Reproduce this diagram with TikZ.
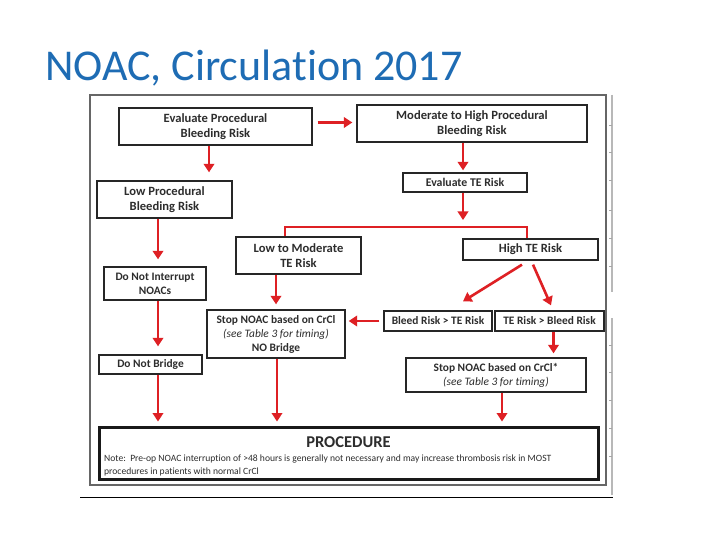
\documentclass[tikz,border=0pt]{standalone}
\usepackage{fontspec}
\setmainfont{Carlito}[Ligatures=NoCommon]
\usetikzlibrary{arrows.meta,calc}
\definecolor{ttl}{RGB}{30,108,180}
\definecolor{arr}{RGB}{222,32,36}
\definecolor{txt}{RGB}{45,45,45}
\begin{document}
\begin{tikzpicture}[x=1pt,y=-1pt,
  box/.style={draw=black!85, line width=1.3pt, align=center, inner sep=0pt, text=txt,
    font=\fontsize{12.6}{15}\selectfont\bfseries},
  sbox/.style={box, font=\fontsize{11.4}{14}\selectfont\bfseries},
  redarr/.style={draw=arr, line width=2.6pt, -{Triangle[width=10.5pt,length=8.5pt]}},
  redline/.style={draw=arr, line width=2.6pt}]
\useasboundingbox[fill=white] (0,0) rectangle (720,540);

% title
\node[anchor=base west, inner sep=0pt, text=ttl, font=\fontsize{44}{50}\selectfont] (title) at (45,81) {NOAC, Circulation 2017};

% frame of the embedded figure
\draw[draw=black!60, line width=1.5pt] (90,95) rectangle (606,485);
\draw[black!28, line width=1.2pt] (612,95) -- (612,292);
\draw[black!28, line width=1.2pt] (612,318) -- (612,495);
\foreach \yy in {125,152,180,210,238,266,345,372,400,428,456}
  \draw[black!35, line width=0.6pt] (609,\yy) -- (612,\yy);
\draw[black, line width=0.8pt] (80,497) -- (613,497);

% boxes
\node[box, minimum width=193pt, minimum height=37pt] (b1) at (215.5,126.5) {Evaluate Procedural\\Bleeding Risk};
\node[box, minimum width=230pt, minimum height=37pt] (b2) at (472,123.5) {Moderate to High Procedural\\Bleeding Risk};
\node[box, minimum width=124pt, minimum height=19pt, font=\fontsize{11.8}{14}\selectfont\bfseries] (b3) at (465,182.5) {Evaluate TE Risk};
\node[box, minimum width=135pt, minimum height=37pt] (b4) at (164.5,199.5) {Low Procedural\\Bleeding Risk};
\node[box, minimum width=125pt, minimum height=37pt] (b5) at (298.5,255.5) {Low to Moderate\\TE Risk};
\node[box, minimum width=135pt, minimum height=21pt] (b6) at (530.5,249.5) {High TE Risk};
\node[sbox, minimum width=102pt, minimum height=33pt] (b7) at (155,283.5) {Do Not Interrupt\\NOACs};
\node[sbox, minimum width=138pt, minimum height=48pt] (b8) at (276,334) {Stop NOAC based on CrCl\\{\mdseries\itshape (see Table 3 for timing)}\\NO Bridge};
\node[sbox, minimum width=108pt, minimum height=20pt] (b9) at (438,321) {Bleed Risk > TE Risk};
\node[sbox, minimum width=109pt, minimum height=20pt] (b10) at (549.5,321) {TE Risk > Bleed Risk};
\node[sbox, minimum width=103pt, minimum height=19pt] (b11) at (150.5,364.5) {Do Not Bridge};
\node[sbox, minimum width=180pt, minimum height=34pt] (b12) at (496,375) {Stop NOAC based on CrCl*\\{\mdseries\itshape (see Table 3 for timing)}};
\node[draw=black!90, line width=3pt, minimum width=499pt, minimum height=52pt, inner sep=0pt] (b13) at (348.5,453) {};
\node[anchor=base, inner sep=0pt, text=txt, font=\fontsize{16.5}{18}\selectfont\bfseries] (proc) at (348.5,447) {PROCEDURE};
\node[anchor=base west, inner sep=0pt, text=txt, align=left, font=\fontsize{9.6}{13}\selectfont] (note) at (104,474)
  {Note:\ \ Pre-op NOAC interruption of >48 hours is generally not necessary and may increase thrombosis risk in MOST\\procedures in patients with normal CrCl};

% arrows
\coordinate (a1) at ([yshift=4pt]b1.east);
\draw[redarr, shorten <=5pt, shorten >=4pt] (a1) -- (a1 -| b2.west);
\coordinate (a2) at ([xshift=-6.5pt]b1.south);
\draw[redarr, shorten >=8pt] (a2) -- (a2 |- b4.north);
\coordinate (a3) at ([xshift=-9pt]b2.south);
\draw[redarr, shorten >=2pt] (a3) -- (a3 |- b3.north);
\coordinate (bl) at (285,227);
\coordinate (br) at (527,227);
\coordinate (a4) at ([xshift=-2pt]b3.south);
\draw[redarr, shorten >=7pt] (a4) -- (a4 |- bl);
\draw[redline] (bl |- b5.north) -- (bl) -- (br) -- (br |- b6.north);
\coordinate (a5) at ([xshift=-6.5pt]b4.south);
\draw[redarr, shorten >=7pt] (a5) -- (a5 |- b7.north);
\coordinate (a6) at ([xshift=3pt]b7.south);
\draw[redarr, shorten >=8pt] (a6) -- (a6 |- b11.north);
\coordinate (a7) at ([xshift=7.5pt]b11.south);
\draw[redarr, shorten >=4pt] (a7) -- (a7 |- b13.north);
\coordinate (a8) at ([xshift=-22.5pt]b5.south);
\draw[redarr, shorten >=5pt] (a8) -- (a8 |- b8.north);
\coordinate (a9) at ([xshift=1pt]b8.south);
\draw[redarr, shorten >=4pt] (a9) -- (a9 |- b13.north);
\draw[redarr] ([xshift=-8.5pt,yshift=-4pt]b6.south) -- ([xshift=25pt,yshift=9pt]b9.north);
\draw[redarr] ([xshift=2.5pt,yshift=-4pt]b6.south) -- ([xshift=1.5pt,yshift=5pt]b10.north);
\coordinate (a12) at (b9.west);
\draw[redarr, shorten <=4pt, shorten >=3pt] (a12) -- (a12 -| b8.east);
\coordinate (a13) at ([xshift=4pt]b10.south);
\draw[redarr, shorten >=4pt] (a13) -- (a13 |- b12.north);
\coordinate (a14) at ([xshift=6pt]b12.south);
\draw[redarr, shorten >=4pt] (a14) -- (a14 |- b13.north);
\end{tikzpicture}
\end{document}
